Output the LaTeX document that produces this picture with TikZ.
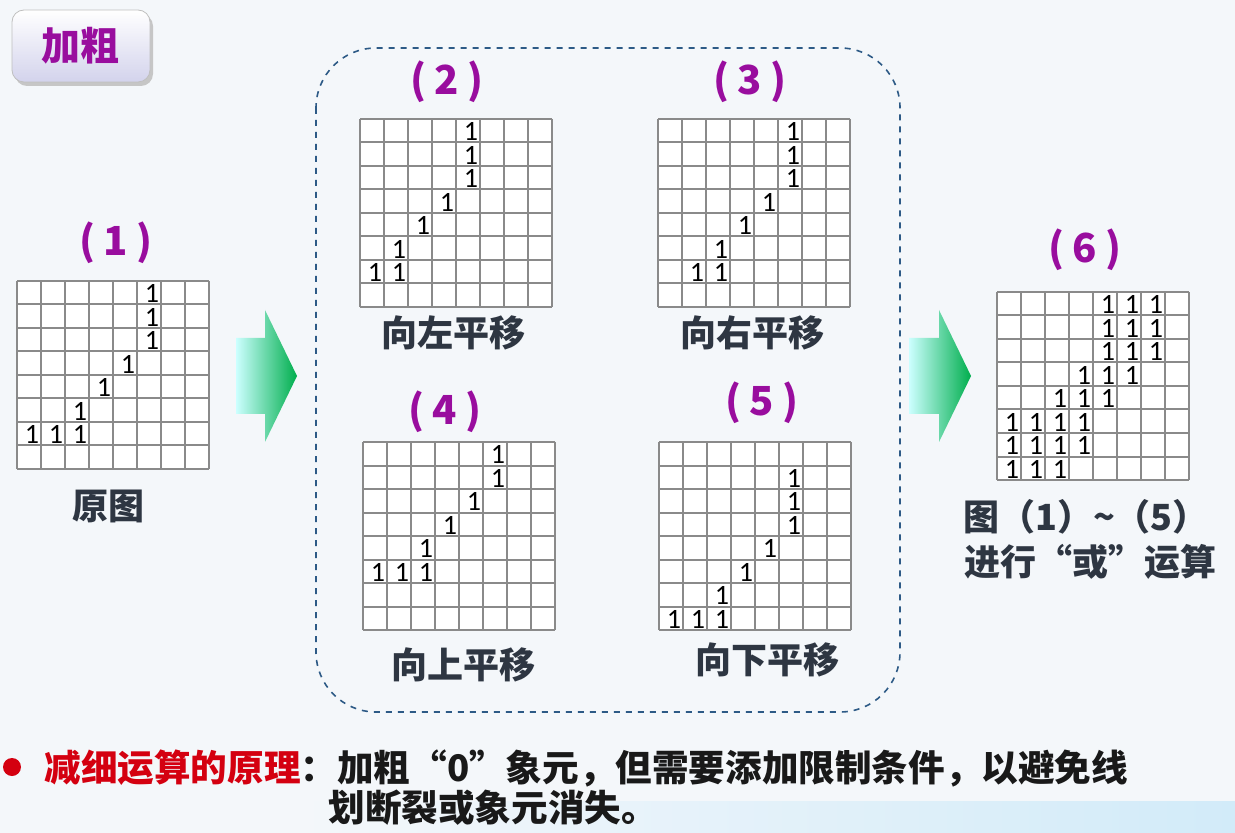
\documentclass[tikz,border=0pt]{standalone}
\usepackage{fontspec}
\setmainfont{Carlito}
\newfontfamily\cjk{Noto Sans CJK SC}
\usetikzlibrary{positioning}
\definecolor{bgcol}{HTML}{F4F7FA}
\definecolor{bandblue}{HTML}{D2EBF9}
\definecolor{gridgray}{HTML}{8A8A8A}
\definecolor{labpurple}{HTML}{990D9E}
\definecolor{capgray}{HTML}{2E3642}
\definecolor{frameblue}{HTML}{2D5A86}
\definecolor{arrowcyan}{HTML}{CCFFFF}
\definecolor{arrowgreen}{HTML}{00AE4D}
\definecolor{btnlav}{HTML}{D3D3EC}
\definecolor{rulered}{HTML}{D40010}

\begin{document}
\begin{tikzpicture}[x=0.5pt, y=-0.5pt,
  gridline/.style={draw=gridgray, line width=1pt},
  one/.style={anchor=base east, inner sep=0.8pt, text=black, font=\fontsize{14}{15}\selectfont},
  numlab/.style={text=labpurple, font=\cjk\bfseries\fontsize{20}{22}\selectfont},
  caption/.style={text=capgray, font=\cjk\bfseries\fontsize{18}{20}\selectfont},
  ruletext/.style={anchor=west, inner sep=0pt, text=black!90, font=\cjk\bfseries\fontsize{18.3}{20}\selectfont}]
\useasboundingbox (0,0) rectangle (1235,833);
\fill[bgcol] (0,0) rectangle (1235,833);
\shade[left color=bgcol, right color=bandblue] (300,801) rectangle (1235,833);

% title button
\fill[gray!45, rounded corners=6pt] (15,14) rectangle (153,86);
\shade[top color=white, bottom color=btnlav, draw=gray!50, rounded corners=6pt] (12,10) rectangle (150,82);
\node[text=labpurple, font=\cjk\bfseries\fontsize{19.5}{21}\selectfont] (title) at (80,46) {加粗};

% dashed frame around the four shifts
\draw[frameblue, dashed, line width=0.8pt, rounded corners=30pt] (316,48) rectangle (900,712);

% (1) original
\node[numlab] (lab1) at (116,243) {(\hspace{4pt}1\hspace{4pt})};
\begin{scope}[shift={(17,281)}, x=12pt, y=-11.75pt]
  \fill[white] (0,0) rectangle (8,8);
  \foreach \i in {0,...,8} {\draw[gridline] (\i,0) -- (\i,8); \draw[gridline] (0,\i) -- (8,\i);}
  \foreach \c/\r in {5/0,5/1,5/2,4/3,3/4,2/5,0/6,1/6,2/6}
    \node[one] (g1-\c-\r) at (\c+1,\r+0.93) {1};
\end{scope}
\node[caption] (cap1) at (108,506) {原图};

% (2) shift left
\node[numlab] (lab2) at (447,82) {(\hspace{4pt}2\hspace{4pt})};
\begin{scope}[shift={(360,119)}, x=12pt, y=-11.75pt]
  \fill[white] (0,0) rectangle (8,8);
  \foreach \i in {0,...,8} {\draw[gridline] (\i,0) -- (\i,8); \draw[gridline] (0,\i) -- (8,\i);}
  \foreach \c/\r in {4/0,4/1,4/2,3/3,2/4,1/5,0/6,1/6}
    \node[one] (g2-\c-\r) at (\c+1,\r+0.93) {1};
\end{scope}
\node[caption] (cap2) at (453,333) {向左平移};

% (3) shift right
\node[numlab] (lab3) at (750,82) {(\hspace{4pt}3\hspace{4pt})};
\begin{scope}[shift={(658,119)}, x=12pt, y=-11.75pt]
  \fill[white] (0,0) rectangle (8,8);
  \foreach \i in {0,...,8} {\draw[gridline] (\i,0) -- (\i,8); \draw[gridline] (0,\i) -- (8,\i);}
  \foreach \c/\r in {5/0,5/1,5/2,4/3,3/4,2/5,1/6,2/6}
    \node[one] (g3-\c-\r) at (\c+1,\r+0.93) {1};
\end{scope}
\node[caption] (cap3) at (752,333) {向右平移};

% (4) shift up
\node[numlab] (lab4) at (445,412) {(\hspace{4pt}4\hspace{4pt})};
\begin{scope}[shift={(363,442)}, x=12pt, y=-11.75pt]
  \fill[white] (0,0) rectangle (8,8);
  \foreach \i in {0,...,8} {\draw[gridline] (\i,0) -- (\i,8); \draw[gridline] (0,\i) -- (8,\i);}
  \foreach \c/\r in {5/0,5/1,4/2,3/3,2/4,0/5,1/5,2/5}
    \node[one] (g4-\c-\r) at (\c+1,\r+0.93) {1};
\end{scope}
\node[caption] (cap4) at (463,665) {向上平移};

% (5) shift down
\node[numlab] (lab5) at (762,403) {(\hspace{4pt}5\hspace{4pt})};
\begin{scope}[shift={(659,442)}, x=12pt, y=-11.75pt]
  \fill[white] (0,0) rectangle (8,8);
  \foreach \i in {0,...,8} {\draw[gridline] (\i,0) -- (\i,8); \draw[gridline] (0,\i) -- (8,\i);}
  \foreach \c/\r in {5/1,5/2,5/3,4/4,3/5,2/6,0/7,1/7,2/7}
    \node[one] (g5-\c-\r) at (\c+1,\r+0.93) {1};
\end{scope}
\node[caption] (cap5) at (767,660) {向下平移};

% (6) result of OR
\node[numlab] (lab6) at (1085,250) {(\hspace{4pt}6\hspace{4pt})};
\begin{scope}[shift={(997,292)}, x=12pt, y=-11.75pt]
  \fill[white] (0,0) rectangle (8,8);
  \foreach \i in {0,...,8} {\draw[gridline] (\i,0) -- (\i,8); \draw[gridline] (0,\i) -- (8,\i);}
  \foreach \c/\r in {4/0,5/0,6/0,4/1,5/1,6/1,4/2,5/2,6/2,3/3,4/3,5/3,2/4,3/4,4/4,
                     0/5,1/5,2/5,3/5,0/6,1/6,2/6,3/6,0/7,1/7,2/7}
    \node[one] (g6-\c-\r) at (\c+1,\r+0.93) {1};
\end{scope}
\node[caption] (cap6a) at (1086,517) {图（1）\textasciitilde（5）};
\node[caption] (cap6b) at (1090,562) {进行“或”运算};

% block arrows
\shade[left color=arrowcyan, right color=arrowgreen] (236,338) -- (265,338) -- (265,310) -- (297,376) -- (265,442) -- (265,414) -- (236,414) -- cycle;
\shade[left color=arrowcyan, right color=arrowgreen] (909,338) -- (939,338) -- (939,310) -- (971,376) -- (939,442) -- (939,414) -- (909,414) -- cycle;

% principle
\node[circle, fill=rulered, inner sep=0pt, minimum size=9pt] (bullet) at (12,767) {};
\node[ruletext] (rule1) at (44,768) {\textcolor{rulered}{减细运算的原理}：加粗“0”象元，但需要添加限制条件，以避免线};
\node[ruletext] (rule2) at (328,808) {划断裂或象元消失。};
\end{tikzpicture}
\end{document}
